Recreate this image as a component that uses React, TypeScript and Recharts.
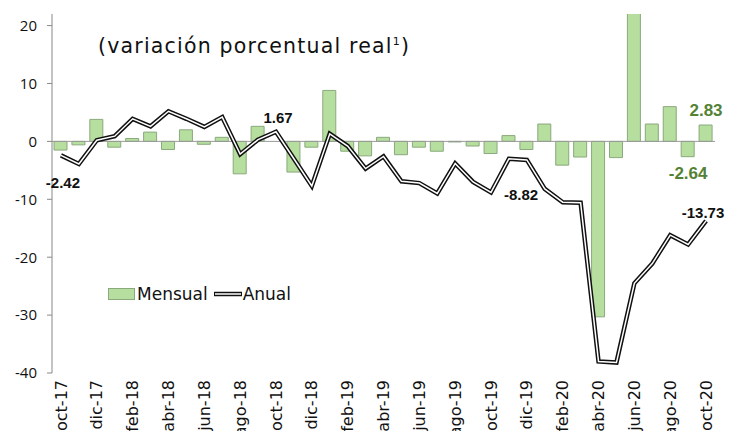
import {
  Bar,
  ComposedChart,
  LabelList,
  Legend,
  Line,
  ReferenceLine,
  XAxis,
  YAxis,
} from "recharts";

const months = [
  "oct-17", "nov-17", "dic-17", "ene-18", "feb-18", "mar-18", "abr-18", "may-18", "jun-18",
  "jul-18", "ago-18", "sep-18", "oct-18", "nov-18", "dic-18", "ene-19", "feb-19", "mar-19",
  "abr-19", "may-19", "jun-19", "jul-19", "ago-19", "sep-19", "oct-19", "nov-19", "dic-19",
  "ene-20", "feb-20", "mar-20", "abr-20", "may-20", "jun-20", "jul-20", "ago-20", "sep-20",
  "oct-20",
];

const mensual = [
  -1.5, -0.6, 3.8, -1.0, 0.5, 1.6, -1.4, 2.0, -0.5, 0.7, -5.6, 2.6, 0.0, -5.3, -1.0, 8.8,
  -1.7, -2.5, 0.7, -2.3, -1.0, -1.7, -0.1, -0.8, -2.1, 1.0, -1.4, 3.0, -4.1, -2.7, -30.3,
  -2.8, 24.0, 3.0, 6.0, -2.64, 2.83,
];

const anual = [
  -2.42, -3.9, 0.2, 0.9, 3.9, 2.6, 5.2, 3.9, 2.5, 4.2, -2.2, 0.3, 1.67, -3.0, -7.7, 1.3,
  -0.8, -4.7, -2.6, -6.9, -7.2, -9.0, -3.8, -7.0, -8.82, -3.0, -3.2, -8.2, -10.5, -10.6,
  -38.0, -38.2, -24.5, -21.1, -16.2, -17.8, -13.73,
];

const yTicks = [-40, -30, -20, -10, 0, 10, 20];

// which points get a value label, and where it sits relative to the point
const anualLabels: Record<number, [number, number]> = {
  0: [2, 27],
  12: [2, -14],
  24: [30, 2],
  36: [-3, -8],
};
const mensualLabels: Record<number, number> = {
  35: 17,
  36: -15,
};

const data = months.map((m, i) => ({ name: m, mensual: mensual[i], anual: anual[i] }));

const labelFont = "'Liberation Sans', Arial, sans-serif";
const axisFont = "'DejaVu Sans', sans-serif";

function AnualLabel(props: any) {
  const { x, y, value, index } = props;
  const off = anualLabels[index];
  if (!off) return null;
  return (
    <text
      x={x + off[0]}
      y={y + off[1]}
      textAnchor="middle"
      dominantBaseline="central"
      fontFamily={labelFont}
      fontWeight="bold"
      fontSize={15}
      fill="#111"
    >
      {Number(value).toFixed(2)}
    </text>
  );
}

// placed on an invisible line over the bars, so x/y is the bar end
function MensualLabel(props: any) {
  const { x, y, value, index } = props;
  const dy = mensualLabels[index];
  if (dy === undefined) return null;
  return (
    <text
      x={x}
      y={y + dy}
      textAnchor="middle"
      dominantBaseline="central"
      fontFamily={labelFont}
      fontWeight="bold"
      fontSize={17}
      fill="#548235"
    >
      {Number(value).toFixed(2)}
    </text>
  );
}

function MonthTick(props: any) {
  const { x, y, payload } = props;
  return (
    <g transform={`translate(${x},${y + 5})`}>
      <text
        transform="rotate(-90)"
        textAnchor="end"
        dy="0.35em"
        fontFamily={axisFont}
        fontSize={16}
        fill="#111"
      >
        {payload.value}
      </text>
    </g>
  );
}

function LegendBox() {
  return (
    <div
      style={{
        display: "flex",
        alignItems: "center",
        fontFamily: axisFont,
        fontSize: 17,
        color: "#111",
      }}
    >
      <span
        style={{
          display: "inline-block",
          width: 25,
          height: 10,
          background: "#b6de9f",
          border: "1px solid #8aa97c",
        }}
      />
      <span style={{ marginLeft: 2 }}>Mensual</span>
      <svg width={28} height={8} style={{ marginLeft: 6 }}>
        <line x1={0} y1={4} x2={28} y2={4} stroke="#111" strokeWidth={4.5} />
        <line x1={1} y1={4} x2={27} y2={4} stroke="#fff" strokeWidth={1.5} />
      </svg>
      <span style={{ marginLeft: 1 }}>Anual</span>
    </div>
  );
}

export default function App() {
  return (
    <ComposedChart
      width={729}
      height={423}
      data={data}
      margin={{ top: 6, right: 22, bottom: 0, left: 0 }}
    >
      <XAxis
        dataKey="name"
        interval={1}
        height={58}
        axisLine={false}
        tickLine={false}
        tickSize={0}
        tick={<MonthTick />}
      />
      <YAxis
        width={44}
        domain={[-40, 22]}
        ticks={yTicks}
        allowDataOverflow
        interval={0}
        stroke="#888"
        tickSize={5}
        tickMargin={10}
        tick={{ fill: "#111", fontSize: 15, fontFamily: "'Open Sans', sans-serif" }}
      />
      <ReferenceLine y={0} stroke="#999" />
      <Legend
        layout="horizontal"
        verticalAlign="middle"
        align="center"
        wrapperStyle={{ left: 100, top: 276, width: "auto" }}
        content={<LegendBox />}
      />
      <Bar
        dataKey="mensual"
        name="Mensual"
        barSize={13}
        fill="#b6de9f"
        stroke="#8aa97c"
        strokeWidth={1}
        isAnimationActive={false}
      />
      <Line
        dataKey="mensual"
        legendType="none"
        stroke="none"
        dot={false}
        activeDot={false}
        isAnimationActive={false}
      >
        <LabelList dataKey="mensual" content={<MensualLabel />} />
      </Line>
      <Line
        dataKey="anual"
        name="Anual"
        type="linear"
        stroke="#111"
        strokeWidth={4.5}
        dot={false}
        activeDot={false}
        isAnimationActive={false}
      >
        <LabelList dataKey="anual" content={<AnualLabel />} />
      </Line>
      <Line
        dataKey="anual"
        legendType="none"
        type="linear"
        stroke="#fff"
        strokeWidth={1.5}
        dot={false}
        activeDot={false}
        isAnimationActive={false}
      />
      <text
        x={90}
        y={45}
        fontFamily={axisFont}
        fontSize={20.5}
        letterSpacing={1.2}
        fill="#111"
      >
        (variación porcentual real
        <tspan fontSize={11} dy={-8}>1</tspan>
        <tspan dy={8}>)</tspan>
      </text>
    </ComposedChart>
  );
}
